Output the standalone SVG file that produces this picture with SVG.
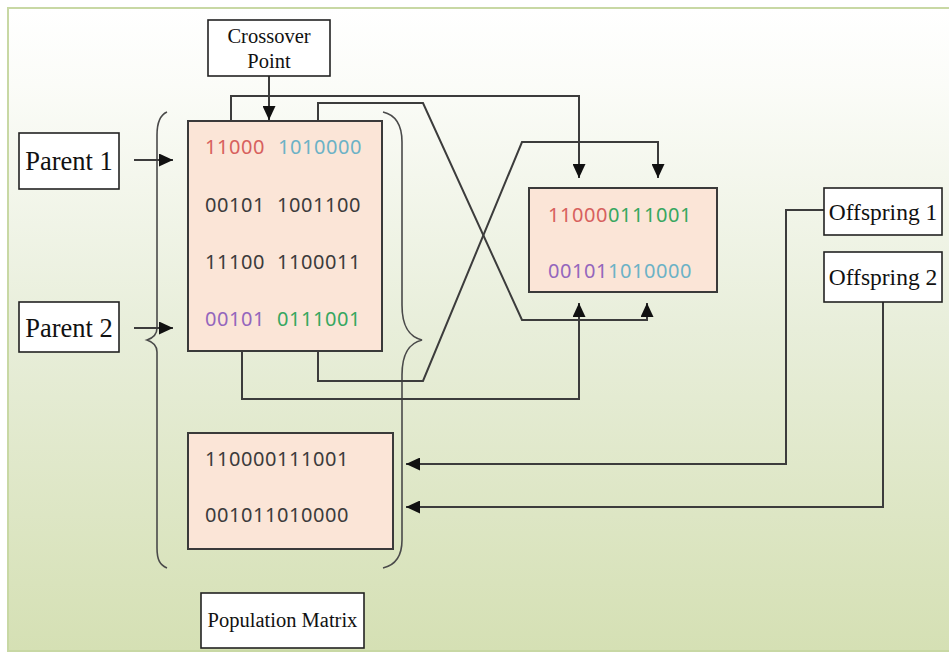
<svg xmlns="http://www.w3.org/2000/svg" width="949" height="653" viewBox="0 0 949 653">
  <defs>
    <linearGradient id="bg" x1="0" y1="0" x2="0" y2="1">
      <stop offset="0" stop-color="#ffffff"/>
      <stop offset="0.12" stop-color="#fbfcf8"/>
      <stop offset="0.5" stop-color="#e8eeda"/>
      <stop offset="1" stop-color="#d5e0b4"/>
    </linearGradient>
    <marker id="arrow" markerUnits="userSpaceOnUse" markerWidth="14" markerHeight="13" refX="14" refY="6.5" orient="auto">
      <path d="M0,0 L14,6.5 L0,13 z" fill="#111"/>
    </marker>
    <style>
      .label { font-family: "Liberation Serif", "Times New Roman", serif; fill: #111; text-anchor: middle; }
      .box { fill: #ffffff; stroke: #222; stroke-width: 1.6; }
      .matrix { fill: #fbe5d7; stroke: #3a3a3a; stroke-width: 2; }
      .bits { font-family: "Noto Sans", "Open Sans", sans-serif; font-size: 20px; letter-spacing: 0.55px; }
      .dark { fill: #3b3b3b; }
      .red { fill: #d7605d; }
      .blue { fill: #6cb2c6; }
      .purple { fill: #9466bd; }
      .green { fill: #37a760; }
      .wire { fill: none; stroke: #3c3c3c; stroke-width: 2; }
      .arrowed { marker-end: url(#arrow); }
      .brace { fill: none; stroke: #4a4a4a; stroke-width: 1.6; }
    </style>
  </defs>

  <!-- background panel -->
  <rect x="0" y="0" width="949" height="653" fill="#ffffff"/>
  <rect x="8" y="8" width="960" height="643" fill="url(#bg)" stroke="#c8d8a4" stroke-width="2"/>

  <!-- population matrix braces -->
  <g id="braces">
    <path class="brace" d="M167,112 C160,115 157,122 157,135 L157,328 C157,335 153,338 147,340 C153,342 157,345 157,352 L157,548 C157,560 160,565 167,568"/>
    <path class="brace" d="M383,112 C396,115 402,125 402,142 L402,305 C402,328 410,337 422,340 C410,343 402,352 402,375 L402,540 C402,556 396,565 383,568"/>
  </g>

  <!-- connectors -->
  <g id="connectors">
    <path class="wire arrowed" d="M269,76 L269,120"/>
    <path class="wire arrowed" d="M134,160 L173,160"/>
    <path class="wire arrowed" d="M134,328 L173,328"/>
    <path class="wire arrowed" d="M231,121 L231,96 L579,96 L579,178"/>
    <path class="wire arrowed" d="M318,121 L318,103 L423,103 L522,320 L647,320 L647,303"/>
    <path class="wire arrowed" d="M318,351 L318,381 L423,381 L522,142 L658,142 L658,178"/>
    <path class="wire arrowed" d="M242,351 L242,399 L579,399 L579,303"/>
    <path class="wire arrowed" d="M824,210 L786,210 L786,464 L406,464"/>
    <path class="wire arrowed" d="M883,302 L883,507 L406,507"/>
  </g>

  <g id="crossover-point">
    <rect class="box" x="208" y="20" width="122" height="56"/>
    <text class="label" x="269" y="43" font-size="20.5">Crossover</text>
    <text class="label" x="269" y="68" font-size="20.5">Point</text>
  </g>

  <g id="parent-1">
    <rect class="box" x="19" y="133" width="100" height="56"/>
    <text class="label" x="69" y="170" font-size="26.5">Parent 1</text>
  </g>

  <g id="parent-2">
    <rect class="box" x="19" y="302" width="100" height="50"/>
    <text class="label" x="69" y="337" font-size="26.5">Parent 2</text>
  </g>

  <g id="parents-matrix">
    <rect class="matrix" x="188" y="121" width="194" height="230"/>
    <text class="bits" y="154"><tspan class="red" x="205">11000</tspan><tspan class="blue" x="278">1010000</tspan></text>
    <text class="bits dark" y="212"><tspan x="205">00101</tspan><tspan x="277">1001100</tspan></text>
    <text class="bits dark" y="269"><tspan x="205">11100</tspan><tspan x="277">1100011</tspan></text>
    <text class="bits" y="326"><tspan class="purple" x="205">00101</tspan><tspan class="green" x="277">0111001</tspan></text>
  </g>

  <g id="crossed-pair">
    <rect class="matrix" x="529" y="188" width="188" height="104"/>
    <text class="bits" x="548" y="222"><tspan class="red">11000</tspan><tspan class="green">0111001</tspan></text>
    <text class="bits" x="548" y="278"><tspan class="purple">00101</tspan><tspan class="blue">1010000</tspan></text>
  </g>

  <g id="offspring-1">
    <rect class="box" x="824" y="188" width="118" height="47"/>
    <text class="label" x="883" y="220" font-size="23.5">Offspring 1</text>
  </g>

  <g id="offspring-2">
    <rect class="box" x="824" y="252" width="118" height="50"/>
    <text class="label" x="883" y="285" font-size="23.5">Offspring 2</text>
  </g>

  <g id="new-rows">
    <rect class="matrix" x="188" y="433" width="205" height="116"/>
    <text class="bits dark" x="205" y="466">110000111001</text>
    <text class="bits dark" x="205" y="522">001011010000</text>
  </g>

  <g id="population-matrix">
    <rect class="box" x="201" y="593" width="163" height="55"/>
    <text class="label" x="282.5" y="627" font-size="20.5">Population Matrix</text>
  </g>
</svg>
